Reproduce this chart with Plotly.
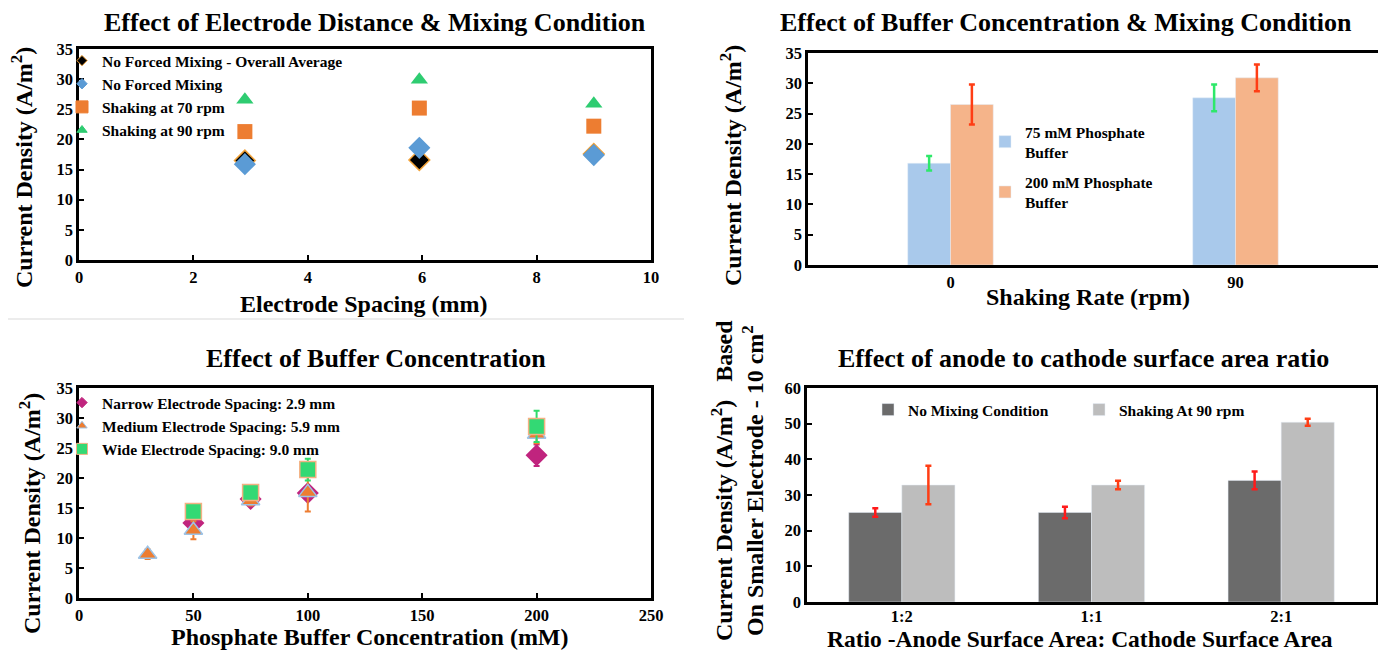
import plotly.graph_objects as go

# ---------- data ----------
# Panel 1: Effect of Electrode Distance & Mixing Condition
p1_x = [2.9, 5.95, 9.0]
p1_avg = [16.5, 16.6, 17.6]
p1_avg_err = [0.5, 1.0, 0.4]
p1_nomix = [15.9, 18.6, 17.4]
p1_shake70 = [21.3, 25.2, 22.2]
p1_shake90 = [26.6, 29.9, 25.9]

# Panel 2: Effect of Buffer Concentration & Mixing Condition
p2_cats = ["0", "90"]
p2_75 = [16.8, 27.6]
p2_75_err = [1.2, 2.2]
p2_200 = [26.5, 30.9]
p2_200_err = [3.3, 2.2]

# Panel 3: Effect of Buffer Concentration
p3_narrow_x = [50, 75, 100, 200]
p3_narrow_y = [12.5, 16.5, 17.5, 23.8]
p3_narrow_err = [0.8, 0.5, 0.8, 1.8]
p3_medium_x = [30, 50, 75, 100, 200]
p3_medium_y = [7.3, 11.3, 16.2, 17.6, 27.3]
p3_medium_err = [0.8, 1.5, 0.8, 3.2, 1.5]
p3_wide_x = [50, 75, 100, 200]
p3_wide_y = [14.4, 17.6, 21.4, 28.6]
p3_wide_err = [0.6, 0.5, 1.8, 2.6]

# Panel 4: Effect of anode to cathode surface area ratio
p4_cats = ["1:2", "1:1", "2:1"]
p4_nomix = [25.1, 25.1, 34.1]
p4_nomix_err = [1.2, 1.6, 2.5]
p4_shake = [32.8, 32.8, 50.4]
p4_shake_err = [5.4, 1.2, 1.0]

FONT = "Liberation Serif"
# the page body has an 8 px margin; size the figure so it fills the 1386x660 window
OFF = 8
W, H = 1386 - 2 * OFF, 660 - 2 * OFF

def px_x(p):
    return (p - OFF) / W

def px_y(p):
    return 1 - (p - OFF) / H

fig = go.Figure()

# ---------- panel 1 ----------
fig.add_trace(go.Scatter(x=p1_x, y=p1_shake90, mode="markers", xaxis="x", yaxis="y",
                         marker=dict(symbol="triangle-up", size=15, color="#2ECC71"),
                         showlegend=False))
fig.add_trace(go.Scatter(x=p1_x, y=p1_shake70, mode="markers", xaxis="x", yaxis="y",
                         marker=dict(symbol="square", size=15, color="#ED7D31"),
                         showlegend=False))
fig.add_trace(go.Scatter(x=p1_x, y=p1_avg, mode="markers", xaxis="x", yaxis="y",
                         error_y=dict(type="data", array=p1_avg_err, color="#FF0000", thickness=2, width=3),
                         marker=dict(symbol="diamond", size=16, color="#000000",
                                     line=dict(color="#F2A33A", width=1.5)),
                         showlegend=False))
fig.add_trace(go.Scatter(x=p1_x, y=p1_nomix, mode="markers", xaxis="x", yaxis="y",
                         marker=dict(symbol="diamond", size=17, color="#5B9BD5"),
                         showlegend=False))
# legend entries panel 1
for name, sym, col, sz, lc in [
    ("No Forced Mixing - Overall Average", "diamond", "#000000", 8, "#F2A33A"),
    ("No Forced Mixing", "diamond", "#5B9BD5", 8, "#5B9BD5"),
    ("Shaking at 70 rpm", "square", "#ED7D31", 12, "#ED7D31"),
    ("Shaking at 90 rpm", "triangle-up", "#2ECC71", 9, "#2ECC71"),
]:
    fig.add_trace(go.Scatter(x=[None], y=[None], mode="markers", name=name, xaxis="x", yaxis="y",
                             marker=dict(symbol=sym, size=sz, color=col, line=dict(color=lc, width=1)),
                             legend="legend"))

# ---------- panel 2 ----------
bw2 = 0.15
fig.add_trace(go.Bar(x=p2_cats, y=p2_75, name="75 mM Phosphate<br>Buffer", xaxis="x2", yaxis="y2",
                     width=bw2, offset=-bw2, marker=dict(color="#A9C9EB"), legendgroup="a",
                     error_y=dict(type="data", array=p2_75_err, color="#2EE86A", thickness=2.5, width=3),
                     legend="legend2"))
fig.add_trace(go.Bar(x=p2_cats, y=p2_200, name="200 mM Phosphate<br>Buffer", xaxis="x2", yaxis="y2",
                     width=bw2, offset=0, marker=dict(color="#F5B48A"), legendgroup="b",
                     error_y=dict(type="data", array=p2_200_err, color="#FF3D14", thickness=2.5, width=3),
                     legend="legend2"))

# ---------- panel 3 ----------
fig.add_trace(go.Scatter(x=p3_narrow_x, y=p3_narrow_y, mode="markers", xaxis="x3", yaxis="y3",
                         error_y=dict(type="data", array=p3_narrow_err, color="#C0247E", thickness=2, width=3),
                         marker=dict(symbol="diamond", size=17, color="#C0247E"), showlegend=False))
fig.add_trace(go.Scatter(x=p3_medium_x, y=p3_medium_y, mode="markers", xaxis="x3", yaxis="y3",
                         error_y=dict(type="data", array=p3_medium_err, color="#ED7D31", thickness=2, width=3),
                         marker=dict(symbol="triangle-up", size=16, color="#ED7D31",
                                     line=dict(color="#9DC3E6", width=1.5)), showlegend=False))
fig.add_trace(go.Scatter(x=p3_wide_x, y=p3_wide_y, mode="markers", xaxis="x3", yaxis="y3",
                         error_y=dict(type="data", array=p3_wide_err, color="#2EDB6A", thickness=2, width=3),
                         marker=dict(symbol="square", size=16, color="#33D974",
                                     line=dict(color="#F4B183", width=1.5)), showlegend=False))
for name, sym, col, sz, lc in [
    ("Narrow Electrode Spacing: 2.9 mm", "diamond", "#C0247E", 8, "#C0247E"),
    ("Medium Electrode Spacing: 5.9 mm", "triangle-up", "#ED7D31", 9, "#9DC3E6"),
    ("Wide Electrode Spacing: 9.0 mm", "square", "#33D974", 11, "#F4B183"),
]:
    fig.add_trace(go.Scatter(x=[None], y=[None], mode="markers", name=name, xaxis="x3", yaxis="y3",
                             marker=dict(symbol=sym, size=sz, color=col, line=dict(color=lc, width=1)),
                             legend="legend3"))

# ---------- panel 4 ----------
bw4 = 0.28
fig.add_trace(go.Bar(x=p4_cats, y=p4_nomix, name="No Mixing Condition", xaxis="x4", yaxis="y4",
                     width=bw4, offset=-bw4, marker=dict(color="#6B6B6B"),
                     error_y=dict(type="data", array=p4_nomix_err, color="#FF1A1A", thickness=2.5, width=3),
                     legend="legend4"))
fig.add_trace(go.Bar(x=p4_cats, y=p4_shake, name="Shaking At 90 rpm", xaxis="x4", yaxis="y4",
                     width=bw4, offset=0, marker=dict(color="#BDBDBD"),
                     error_y=dict(type="data", array=p4_shake_err, color="#FF3D14", thickness=2.5, width=3),
                     legend="legend4"))

tickfont = dict(family=FONT, size=16.5, color="#000000", weight="bold")

def lin_axis(dom, rng, dtick, anchor):
    return dict(domain=dom, range=rng, dtick=dtick, anchor=anchor, showgrid=False, zeroline=False,
                showline=True, linecolor="#000000", linewidth=2.5, mirror=True, automargin=False,
                ticks="inside", ticklen=5, tickcolor="#000000", tickwidth=1.5, tickfont=tickfont)

def cat_axis(dom, anchor, standoff=0):
    return dict(domain=dom, anchor=anchor, type="category", showgrid=False, zeroline=False,
                showline=True, linecolor="#000000", linewidth=2.5, mirror=True, ticks="",
                automargin=False, tickfont=tickfont, ticklabelstandoff=standoff)

p1x = [px_x(79), px_x(651)]
p1y = [px_y(260), px_y(49)]
p2x = [px_x(808), px_x(1378)]
p2y = [px_y(265), px_y(53)]
p3x = [px_x(79), px_x(651)]
p3y = [px_y(598), px_y(388)]
p4x = [px_x(807), px_x(1376)]
p4y = [px_y(602), px_y(388)]

legfont = dict(family=FONT, size=15.5, color="#000000", weight="bold")

fig.update_layout(
    width=W, height=H,
    margin=dict(l=0, r=0, t=0, b=0, pad=0, autoexpand=False),
    paper_bgcolor="#FFFFFF", plot_bgcolor="#FFFFFF",
    barmode="overlay",
    font=dict(family=FONT, color="#000000"),
    xaxis=lin_axis(p1x, [0, 10], 2, "y"),
    yaxis=lin_axis(p1y, [0, 35], 5, "x"),
    xaxis2=cat_axis(p2x, "y2"),
    yaxis2=lin_axis(p2y, [0, 35], 5, "x2"),
    xaxis3=lin_axis(p3x, [0, 250], 50, "y3"),
    yaxis3=lin_axis(p3y, [0, 35], 5, "x3"),
    xaxis4=cat_axis(p4x, "y4", standoff=-3),
    yaxis4=lin_axis(p4y, [0, 60], 10, "x4"),
    legend=dict(x=px_x(62), y=px_y(44), xanchor="left", yanchor="top", bgcolor="rgba(0,0,0,0)",
                font=legfont, tracegroupgap=0, itemwidth=30),
    legend2=dict(x=px_x(985), y=px_y(115), xanchor="left", yanchor="top", bgcolor="rgba(0,0,0,0)",
                 font=legfont, tracegroupgap=7, itemwidth=30),
    legend3=dict(x=px_x(62), y=px_y(386), xanchor="left", yanchor="top", bgcolor="rgba(0,0,0,0)",
                 font=legfont, itemwidth=30),
    legend4=dict(x=px_x(868), y=px_y(393), xanchor="left", yanchor="top", bgcolor="rgba(0,0,0,0)",
                 font=legfont, orientation="h", itemwidth=30, entrywidth=166),
)

titlefont = dict(family=FONT, size=26, color="#000000", weight="bold")
axfont = dict(family=FONT, size=24, color="#000000", weight="bold")
axfont4 = dict(family=FONT, size=23.5, color="#000000", weight="bold")

annots = [
    ("Effect of Electrode Distance &amp; Mixing Condition", 375, 23, 0, titlefont),
    ("Effect of Buffer Concentration &amp; Mixing Condition", 1066, 23, 0, titlefont),
    ("Effect of Buffer Concentration", 376, 358, 0, titlefont),
    ("Effect of anode to cathode surface area ratio", 1083, 358, 0, titlefont),
    ("Electrode Spacing (mm)", 364, 304, 0, axfont),
    ("Shaking Rate (rpm)", 1088, 297, 0, axfont),
    ("Phosphate Buffer Concentration (mM)", 370, 637, 0, axfont),
    ("Ratio -Anode Surface Area: Cathode Surface Area", 1080, 639, 0, axfont4),
    ("Current Density (A/m<sup>2</sup>)", 22, 168, -90, axfont),
    ("Current Density (A/m<sup>2</sup>)", 731, 166, -90, axfont),
    ("Current Density (A/m<sup>2</sup>)", 30, 514, -90, axfont),
    ("Current Density (A/m<sup>2</sup>)   Based<br>On Smaller Electrode - 10 cm<sup>2</sup>", 737, 481, -90, axfont),
]
for text, x, y, ang, f in annots:
    fig.add_annotation(text=text, x=px_x(x), y=px_y(y), xref="paper", yref="paper",
                       showarrow=False, textangle=ang, font=f, xanchor="center", yanchor="middle")

# thin separator line under top-left panel
fig.add_shape(type="line", xref="paper", yref="paper", x0=0, x1=px_x(684), y0=px_y(319), y1=px_y(319),
              line=dict(color="#D9D9D9", width=1))

fig.write_html("out.html")
